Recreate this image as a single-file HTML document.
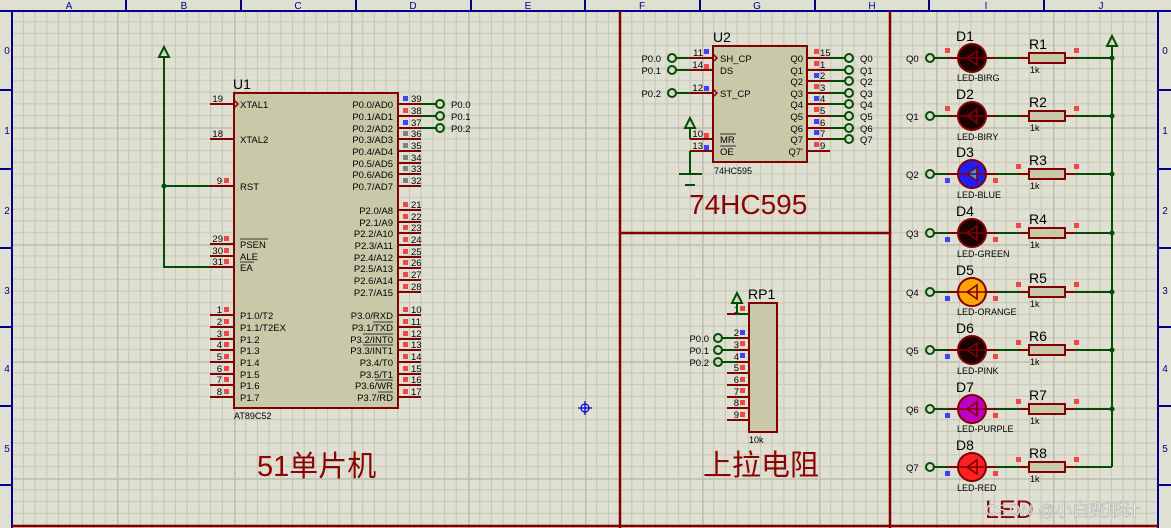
<!DOCTYPE html>
<html><head><meta charset="utf-8"><style>
html,body{margin:0;padding:0;background:#e0e0d2;}
svg{display:block;font-family:"Liberation Sans","Noto Sans CJK SC",sans-serif;}
</style></head><body>
<svg width="1171" height="528" viewBox="0 0 1171 528" xmlns="http://www.w3.org/2000/svg">
<defs>
<pattern id="g" x="0" y="10.2" width="117" height="117" patternUnits="userSpaceOnUse">
<path d="M11.7 0V117M23.4 0V117M35.1 0V117M46.8 0V117M58.5 0V117M70.2 0V117M81.9 0V117M93.6 0V117M105.3 0V117M0 11.7H117M0 23.4H117M0 35.1H117M0 46.8H117M0 58.5H117M0 70.2H117M0 81.9H117M0 93.6H117M0 105.3H117" stroke="#c9c9bb" stroke-width="1.2" fill="none"/>
<path d="M0.5 0V117M0 0.5H117" stroke="#bdbdb0" stroke-width="2.2" fill="none"/>
</pattern>
</defs>
<rect width="1171" height="528" fill="#e0e0d2"/>
<rect width="1171" height="528" fill="url(#g)"/>
<rect x="0" y="0" width="1171" height="11" fill="#e0e0d2"/>
<rect x="0" y="0" width="12" height="528" fill="#e0e0d2"/>
<rect x="1159" y="0" width="12" height="528" fill="#e0e0d2"/>
<g stroke="#00008b" stroke-width="2" fill="none">
<path d="M0 11H1171M12 11V528M1158 11V528"/>
<path d="M126 0V11M241 0V11M356 0V11M471 0V11M585 0V11M700 0V11M815 0V11M929 0V11M1044 0V11"/>
<path d="M0 90H12M0 169H12M0 248H12M0 327H12M0 406H12M0 485H12M1158 90H1171M1158 169H1171M1158 248H1171M1158 327H1171M1158 406H1171M1158 485H1171"/>
</g>
<g fill="#00008b" font-size="10" text-anchor="middle">
<text x="69" y="9">A</text><text x="184" y="9">B</text><text x="298" y="9">C</text><text x="413" y="9">D</text><text x="528" y="9">E</text><text x="642" y="9">F</text><text x="757" y="9">G</text><text x="872" y="9">H</text><text x="986" y="9">I</text><text x="1101" y="9">J</text>
<text x="7" y="54">0</text><text x="7" y="134">1</text><text x="7" y="214">2</text><text x="7" y="294">3</text><text x="7" y="372">4</text><text x="7" y="452">5</text>
<text x="1165" y="54">0</text><text x="1165" y="134">1</text><text x="1165" y="214">2</text><text x="1165" y="294">3</text><text x="1165" y="372">4</text><text x="1165" y="452">5</text>
</g>
<g stroke="#800000" stroke-width="2.5">
<path d="M620 11V528M890 11V528M620 233H890M12 526H1158"/>
</g>
<g stroke="#0000cc" stroke-width="1.2" fill="none"><circle cx="585" cy="408" r="4"/><path d="M578 408H592M585 401V415"/></g>

<rect x="234" y="93" width="164" height="315" fill="#c9c9a9" stroke="#800000" stroke-width="2"/>
<text x="233" y="89" font-size="14" fill="#000">U1</text>
<text x="234" y="419" font-size="9" fill="#000">AT89C52</text>
<g stroke="#800000" stroke-width="2">
<path d="M210 104H234M210 139H234M210 186H234M210 244H234M210 256H234M210 267H234"/>
<path d="M210 315H234M210 327H234M210 339H234M210 350H234M210 362H234M210 374H234M210 385H234M210 397H234"/>
<path d="M398 104H421M398 116H421M398 128H421M398 139H421M398 151H421M398 163H421M398 174H421M398 186H421"/>
<path d="M398 210H421M398 222H421M398 233H421M398 245H421M398 257H421M398 268H421M398 280H421M398 292H421"/>
<path d="M398 315H421M398 327H421M398 339H421M398 350H421M398 362H421M398 374H421M398 385H421M398 397H421"/>
</g>
<path d="M234 100L238 104L234 108" fill="none" stroke="#800000" stroke-width="1.5"/>
<g font-size="9.5" fill="#000">
<g text-anchor="end">
<text x="223" y="102">19</text><text x="223" y="137">18</text><text x="222" y="184">9</text><text x="223" y="242">29</text><text x="223" y="254">30</text><text x="223" y="265">31</text>
<text x="222" y="313">1</text><text x="222" y="325">2</text><text x="222" y="337">3</text><text x="222" y="348">4</text><text x="222" y="360">5</text><text x="222" y="372">6</text><text x="222" y="383">7</text><text x="222" y="395">8</text>
</g>
<text x="411" y="102">39</text><text x="411" y="114">38</text><text x="411" y="126">37</text><text x="411" y="137">36</text><text x="411" y="149">35</text><text x="411" y="161">34</text><text x="411" y="172">33</text><text x="411" y="184">32</text>
<text x="411" y="208">21</text><text x="411" y="220">22</text><text x="411" y="231">23</text><text x="411" y="243">24</text><text x="411" y="255">25</text><text x="411" y="266">26</text><text x="411" y="278">27</text><text x="411" y="290">28</text>
<text x="411" y="313">10</text><text x="411" y="325">11</text><text x="411" y="337">12</text><text x="411" y="348">13</text><text x="411" y="360">14</text><text x="411" y="372">15</text><text x="411" y="383">16</text><text x="411" y="395">17</text>
</g>
<g font-size="9.5" fill="#000">
<text x="240" y="108">XTAL1</text><text x="240" y="143">XTAL2</text><text x="240" y="190">RST</text>
<text x="240" y="248">PSEN</text><text x="240" y="260">ALE</text><text x="240" y="271">EA</text>
<text x="240" y="319">P1.0/T2</text><text x="240" y="331">P1.1/T2EX</text><text x="240" y="343">P1.2</text><text x="240" y="354">P1.3</text><text x="240" y="366">P1.4</text><text x="240" y="378">P1.5</text><text x="240" y="389">P1.6</text><text x="240" y="401">P1.7</text>
<g text-anchor="end">
<text x="393" y="108">P0.0/AD0</text><text x="393" y="120">P0.1/AD1</text><text x="393" y="132">P0.2/AD2</text><text x="393" y="143">P0.3/AD3</text><text x="393" y="155">P0.4/AD4</text><text x="393" y="167">P0.5/AD5</text><text x="393" y="178">P0.6/AD6</text><text x="393" y="190">P0.7/AD7</text>
<text x="393" y="214">P2.0/A8</text><text x="393" y="226">P2.1/A9</text><text x="393" y="237">P2.2/A10</text><text x="393" y="249">P2.3/A11</text><text x="393" y="261">P2.4/A12</text><text x="393" y="272">P2.5/A13</text><text x="393" y="284">P2.6/A14</text><text x="393" y="296">P2.7/A15</text>
<text x="393" y="319">P3.0/RXD</text><text x="393" y="331">P3.1/TXD</text><text x="393" y="343">P3.2/INT0</text><text x="393" y="354">P3.3/INT1</text><text x="393" y="366">P3.4/T0</text><text x="393" y="378">P3.5/T1</text><text x="393" y="389">P3.6/WR</text><text x="393" y="401">P3.7/RD</text>
</g></g>
<g stroke="#000" stroke-width="0.8"><path d="M240 239H268M240 262H254M373 322H393M363 334H393M363 345H393M375 380H393M378 392H393"/></g>
<g fill="#f04848">
<rect x="224" y="178" width="5" height="5"/><rect x="224" y="236" width="5" height="5"/><rect x="224" y="248" width="5" height="5"/><rect x="224" y="259" width="5" height="5"/>
<rect x="224" y="307" width="5" height="5"/><rect x="224" y="319" width="5" height="5"/><rect x="224" y="331" width="5" height="5"/><rect x="224" y="342" width="5" height="5"/><rect x="224" y="354" width="5" height="5"/><rect x="224" y="366" width="5" height="5"/><rect x="224" y="377" width="5" height="5"/><rect x="224" y="389" width="5" height="5"/>
<rect x="403" y="108" width="5" height="5"/>
<rect x="403" y="202" width="5" height="5"/><rect x="403" y="214" width="5" height="5"/><rect x="403" y="225" width="5" height="5"/><rect x="403" y="237" width="5" height="5"/><rect x="403" y="249" width="5" height="5"/><rect x="403" y="260" width="5" height="5"/><rect x="403" y="272" width="5" height="5"/><rect x="403" y="284" width="5" height="5"/>
<rect x="403" y="307" width="5" height="5"/><rect x="403" y="319" width="5" height="5"/><rect x="403" y="331" width="5" height="5"/><rect x="403" y="342" width="5" height="5"/><rect x="403" y="354" width="5" height="5"/><rect x="403" y="366" width="5" height="5"/><rect x="403" y="377" width="5" height="5"/><rect x="403" y="389" width="5" height="5"/>
</g>
<g fill="#4040ff"><rect x="403" y="96" width="5" height="5"/><rect x="403" y="120" width="5" height="5"/></g>
<g fill="#808080"><rect x="403" y="131" width="5" height="5"/><rect x="403" y="143" width="5" height="5"/><rect x="403" y="155" width="5" height="5"/><rect x="403" y="166" width="5" height="5"/><rect x="403" y="178" width="5" height="5"/></g>
<g stroke="#004d00" stroke-width="2" fill="none">
<path d="M164 57V267H210M164 186H210"/>
<path d="M164 47L159 57H169Z"/>
<path d="M421 104H436M421 116H436M421 128H436"/>
<circle cx="440" cy="104" r="4"/><circle cx="440" cy="116" r="4"/><circle cx="440" cy="128" r="4"/>
</g>
<circle cx="164" cy="186" r="2.5" fill="#004d00"/>
<g font-size="9.5" fill="#000"><text x="451" y="108">P0.0</text><text x="451" y="120">P0.1</text><text x="451" y="132">P0.2</text></g>
<text x="257" y="476" font-size="29" fill="#8b0000">51单片机</text>

<rect x="713" y="46" width="94" height="116" fill="#c9c9a9" stroke="#800000" stroke-width="2"/>
<text x="713" y="42" font-size="14" fill="#000">U2</text>
<text x="714" y="174" font-size="9" fill="#000">74HC595</text>
<g stroke="#800000" stroke-width="2">
<path d="M690 58H713M690 70H713M690 93H713M690 139H713M690 151H713"/>
<path d="M807 58H830M807 70H830M807 81H830M807 93H830M807 104H830M807 116H830M807 128H830M807 139H830M807 151H830"/>
</g>
<path d="M713 54L717 58L713 62M713 89L717 93L713 97" fill="none" stroke="#800000" stroke-width="1.5"/>
<g font-size="9.5" fill="#000">
<g text-anchor="end"><text x="703" y="56">11</text><text x="703" y="68">14</text><text x="703" y="91">12</text><text x="703" y="137">10</text><text x="703" y="149">13</text></g>
<text x="720" y="62">SH_CP</text><text x="720" y="74">DS</text><text x="720" y="97">ST_CP</text><text x="720" y="143">MR</text><text x="720" y="155">OE</text>
<g text-anchor="end"><text x="803" y="62">Q0</text><text x="803" y="74">Q1</text><text x="803" y="85">Q2</text><text x="803" y="97">Q3</text><text x="803" y="108">Q4</text><text x="803" y="120">Q5</text><text x="803" y="132">Q6</text><text x="803" y="143">Q7</text><text x="803" y="155">Q7'</text></g>
<text x="820" y="56">15</text><text x="820" y="68">1</text><text x="820" y="79">2</text><text x="820" y="91">3</text><text x="820" y="102">4</text><text x="820" y="114">5</text><text x="820" y="126">6</text><text x="820" y="137">7</text><text x="820" y="149">9</text>
<text x="661" y="62" text-anchor="end">P0.0</text><text x="661" y="74" text-anchor="end">P0.1</text><text x="661" y="97" text-anchor="end">P0.2</text>
<text x="860" y="62">Q0</text><text x="860" y="74">Q1</text><text x="860" y="85">Q2</text><text x="860" y="97">Q3</text><text x="860" y="108">Q4</text><text x="860" y="120">Q5</text><text x="860" y="132">Q6</text><text x="860" y="143">Q7</text>
</g>
<path d="M720 134H736M720 146H736" stroke="#000" stroke-width="0.8"/>
<g fill="#f04848"><rect x="704" y="64" width="5" height="5"/><rect x="704" y="133" width="5" height="5"/><rect x="814" y="49" width="5" height="5"/><rect x="814" y="61" width="5" height="5"/><rect x="814" y="84" width="5" height="5"/><rect x="814" y="107" width="5" height="5"/><rect x="814" y="142" width="5" height="5"/></g>
<g fill="#4040ff"><rect x="704" y="49" width="5" height="5"/><rect x="704" y="86" width="5" height="5"/><rect x="704" y="145" width="5" height="5"/><rect x="814" y="73" width="5" height="5"/><rect x="814" y="96" width="5" height="5"/><rect x="814" y="119" width="5" height="5"/><rect x="814" y="130" width="5" height="5"/></g>
<g stroke="#004d00" stroke-width="2" fill="none">
<path d="M676 58H690M676 70H690M676 93H690"/>
<circle cx="672" cy="58" r="4"/><circle cx="672" cy="70" r="4"/><circle cx="672" cy="93" r="4"/>
<path d="M830 58H845M830 70H845M830 81H845M830 93H845M830 104H845M830 116H845M830 128H845M830 139H845"/>
<circle cx="849" cy="58" r="4"/><circle cx="849" cy="70" r="4"/><circle cx="849" cy="81" r="4"/><circle cx="849" cy="93" r="4"/><circle cx="849" cy="104" r="4"/><circle cx="849" cy="116" r="4"/><circle cx="849" cy="128" r="4"/><circle cx="849" cy="139" r="4"/>
<path d="M690 128V139M690 151V174M679 174H702M685 185H695"/>
<path d="M690 118L685 128H695Z"/>
</g>
<text x="689" y="214" font-size="28" fill="#8b0000">74HC595</text>

<rect x="749" y="303" width="28" height="129" fill="#c9c9a9" stroke="#800000" stroke-width="2"/>
<text x="748" y="299" font-size="14" fill="#000">RP1</text>
<text x="749" y="443" font-size="9" fill="#000">10k</text>
<g stroke="#800000" stroke-width="2"><path d="M727 314H749M727 338H749M727 350H749M727 362H749M727 373H749M727 385H749M727 397H749M727 408H749M727 420H749"/></g>
<g font-size="9.5" fill="#000" text-anchor="end"><text x="739" y="313">1</text><text x="739" y="336">2</text><text x="739" y="348">3</text><text x="739" y="360">4</text><text x="739" y="371">5</text><text x="739" y="383">6</text><text x="739" y="395">7</text><text x="739" y="406">8</text><text x="739" y="418">9</text></g>
<g fill="#f04848"><rect x="740" y="306" width="5" height="5"/><rect x="740" y="341" width="5" height="5"/><rect x="740" y="365" width="5" height="5"/><rect x="740" y="377" width="5" height="5"/><rect x="740" y="388" width="5" height="5"/><rect x="740" y="400" width="5" height="5"/><rect x="740" y="412" width="5" height="5"/></g>
<g fill="#4040ff"><rect x="740" y="330" width="5" height="5"/><rect x="740" y="353" width="5" height="5"/></g>
<g stroke="#004d00" stroke-width="2" fill="none">
<path d="M737 303V314H749"/><path d="M737 293L732 303H742Z"/>
<path d="M722 338H735M722 350H735M722 362H735"/>
<circle cx="718" cy="338" r="4"/><circle cx="718" cy="350" r="4"/><circle cx="718" cy="362" r="4"/>
</g>
<g font-size="9.5" fill="#000" text-anchor="end"><text x="709" y="342">P0.0</text><text x="709" y="354">P0.1</text><text x="709" y="366">P0.2</text></g>
<text x="703" y="475" font-size="29" fill="#8b0000">上拉电阻</text>

<g stroke="#004d00" stroke-width="2" fill="none">
<path d="M1112 47V467"/><path d="M1112 36L1107 46H1117Z"/>
</g>
<g font-size="9.5" fill="#000">
<text x="906" y="62">Q0</text><text x="906" y="120">Q1</text><text x="906" y="178">Q2</text><text x="906" y="237">Q3</text><text x="906" y="296">Q4</text><text x="906" y="354">Q5</text><text x="906" y="413">Q6</text><text x="906" y="471">Q7</text>
</g>
<g stroke-width="2" fill="none">
<g stroke="#004d00"><path d="M934 58H958M934 116H958M934 174H958M934 233H958M934 292H958M934 350H958M934 409H958M934 467H958"/>
<path d="M996 58H1019M996 116H1019M996 174H1019M996 233H1019M996 292H1019M996 350H1019M996 409H1019M996 467H1019"/>
<path d="M1075 58H1112M1075 116H1112M1075 174H1112M1075 233H1112M1075 292H1112M1075 350H1112M1075 409H1112M1075 467H1112"/>
<circle cx="930" cy="58" r="4"/><circle cx="930" cy="116" r="4"/><circle cx="930" cy="174" r="4"/><circle cx="930" cy="233" r="4"/><circle cx="930" cy="292" r="4"/><circle cx="930" cy="350" r="4"/><circle cx="930" cy="409" r="4"/><circle cx="930" cy="467" r="4"/></g>
<g stroke="#800000"><path d="M948 58H958M986 58H996M1019 58H1029M1065 58H1075M948 116H958M986 116H996M1019 116H1029M1065 116H1075M948 174H958M986 174H996M1019 174H1029M1065 174H1075M948 233H958M986 233H996M1019 233H1029M1065 233H1075M948 292H958M986 292H996M1019 292H1029M1065 292H1075M948 350H958M986 350H996M1019 350H1029M1065 350H1075M948 409H958M986 409H996M1019 409H1029M1065 409H1075M948 467H958M986 467H996M1019 467H1029M1065 467H1075"/></g>
</g>
<g fill="#004d00"><circle cx="1112" cy="58" r="2.5"/><circle cx="1112" cy="116" r="2.5"/><circle cx="1112" cy="174" r="2.5"/><circle cx="1112" cy="233" r="2.5"/><circle cx="1112" cy="292" r="2.5"/><circle cx="1112" cy="350" r="2.5"/><circle cx="1112" cy="409" r="2.5"/></g>
<g fill="#c9c9a9" stroke="#800000" stroke-width="2">
<rect x="1029" y="53" width="36" height="10"/><rect x="1029" y="111" width="36" height="10"/><rect x="1029" y="169" width="36" height="10"/><rect x="1029" y="228" width="36" height="10"/><rect x="1029" y="287" width="36" height="10"/><rect x="1029" y="345" width="36" height="10"/><rect x="1029" y="404" width="36" height="10"/><rect x="1029" y="462" width="36" height="10"/>
</g>
<g stroke="#800000" stroke-width="2">
<circle cx="972" cy="58" r="14" fill="#1a0000"/>
<circle cx="972" cy="116" r="14" fill="#1a0000"/>
<circle cx="972" cy="174" r="14" fill="#1e1eff"/>
<circle cx="972" cy="233" r="14" fill="#1a0000"/>
<circle cx="972" cy="292" r="14" fill="#ffa500"/>
<circle cx="972" cy="350" r="14" fill="#1a0000"/>
<circle cx="972" cy="409" r="14" fill="#c000c0"/>
<circle cx="972" cy="467" r="14" fill="#ff2020"/>
</g>
<g stroke="#800000" stroke-width="1.6" fill="none">
<path d="M958 58H986M977 51V65M977 51L967 58L977 65Z"/>
<path d="M958 116H986M977 109V123M977 109L967 116L977 123Z"/>
<path d="M958 233H986M977 226V240M977 226L967 233L977 240Z"/>
<path d="M958 292H986M977 285V299M977 285L967 292L977 299Z"/>
<path d="M958 350H986M977 343V357M977 343L967 350L977 357Z"/>
<path d="M958 409H986M977 402V416M977 402L967 409L977 416Z"/>
<path d="M958 467H986M977 460V474M977 460L967 467L977 474Z"/>
</g>
<path d="M958 174H986M977 167V181M967 174L977 167V181Z" stroke="#800000" stroke-width="1.6" fill="#3399ff"/>
<g font-size="14" fill="#000">
<text x="956" y="41">D1</text><text x="956" y="99">D2</text><text x="956" y="157">D3</text><text x="956" y="216">D4</text><text x="956" y="275">D5</text><text x="956" y="333">D6</text><text x="956" y="392">D7</text><text x="956" y="450">D8</text>
<text x="1029" y="49">R1</text><text x="1029" y="107">R2</text><text x="1029" y="165">R3</text><text x="1029" y="224">R4</text><text x="1029" y="283">R5</text><text x="1029" y="341">R6</text><text x="1029" y="400">R7</text><text x="1029" y="458">R8</text>
</g>
<g font-size="9" fill="#000">
<text x="957" y="81">LED-BIRG</text><text x="957" y="140">LED-BIRY</text><text x="957" y="198">LED-BLUE</text><text x="957" y="257">LED-GREEN</text><text x="957" y="315">LED-ORANGE</text><text x="957" y="374">LED-PINK</text><text x="957" y="432">LED-PURPLE</text><text x="957" y="491">LED-RED</text>
<text x="1030" y="73">1k</text><text x="1030" y="131">1k</text><text x="1030" y="189">1k</text><text x="1030" y="248">1k</text><text x="1030" y="307">1k</text><text x="1030" y="365">1k</text><text x="1030" y="424">1k</text><text x="1030" y="482">1k</text>
</g>
<g fill="#f04848">
<rect x="945" y="48" width="5" height="5"/><rect x="1074" y="48" width="5" height="5"/>
<rect x="945" y="106" width="5" height="5"/><rect x="1074" y="106" width="5" height="5"/>
<rect x="993" y="178" width="5" height="5"/><rect x="1016" y="164" width="5" height="5"/><rect x="1074" y="164" width="5" height="5"/>
<rect x="993" y="237" width="5" height="5"/><rect x="1016" y="223" width="5" height="5"/><rect x="1074" y="223" width="5" height="5"/>
<rect x="993" y="296" width="5" height="5"/><rect x="1016" y="282" width="5" height="5"/><rect x="1074" y="282" width="5" height="5"/>
<rect x="993" y="354" width="5" height="5"/><rect x="1016" y="340" width="5" height="5"/><rect x="1074" y="340" width="5" height="5"/>
<rect x="993" y="413" width="5" height="5"/><rect x="1016" y="399" width="5" height="5"/><rect x="1074" y="399" width="5" height="5"/>
<rect x="993" y="471" width="5" height="5"/><rect x="1016" y="457" width="5" height="5"/><rect x="1074" y="457" width="5" height="5"/>
</g>
<g fill="#4040ff"><rect x="945" y="178" width="5" height="5"/><rect x="945" y="237" width="5" height="5"/><rect x="945" y="296" width="5" height="5"/><rect x="945" y="354" width="5" height="5"/><rect x="945" y="413" width="5" height="5"/><rect x="945" y="471" width="5" height="5"/></g>
<text x="985" y="518" font-size="25" fill="#8b0000">LED</text>
<text x="985" y="516" font-size="17" fill="#ffffff" stroke="#9a9a9a" stroke-width="0.5" opacity="0.9">CSDN @小白变形计</text>
</svg>
</body></html>
